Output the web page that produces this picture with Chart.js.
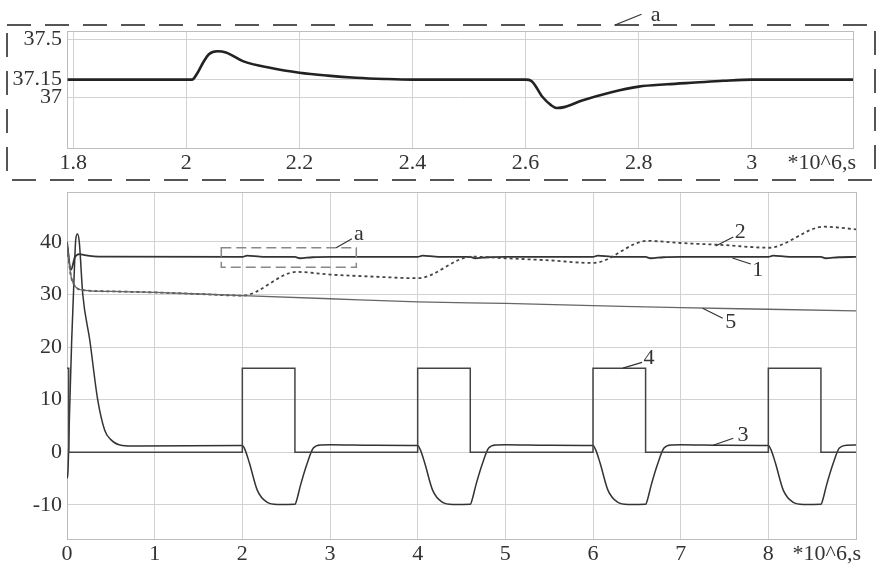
<!DOCTYPE html>
<html>
<head>
<meta charset="utf-8">
<script src="https://cdn.jsdelivr.net/npm/chart.js@4.4.1/dist/chart.umd.min.js"></script>
<style>
  html, body { margin: 0; padding: 0; background: #fff; }
  #wrap { position: relative; width: 877px; height: 568px; overflow: hidden; }
  canvas { position: absolute; left: 0; }
  #insetCanvas { top: 0; }
  #mainCanvas { top: 185px; }
</style>
</head>
<body>
<div id="wrap">
  <canvas id="insetCanvas" width="877" height="190"></canvas>
  <canvas id="mainCanvas" width="877" height="383"></canvas>
</div>
<script>
// ---- data (time in 10^6 s) ----
var unitLabel = "*10^6,s";

// inset (curve 1 between 1.8 and 3.2)
var insetXTicks = [1.8, 2, 2.2, 2.4, 2.6, 2.8, 3];
var insetYTicks = [37, 37.15, 37.5];
var insetX = [1.79, 2.0, 2.01, 2.02, 2.03, 2.04, 2.055, 2.07, 2.1, 2.15, 2.2, 2.25, 2.3, 2.35, 2.4, 2.5,
              2.6, 2.61, 2.63, 2.645, 2.655, 2.67, 2.7, 2.75, 2.8, 2.85, 2.9, 2.95, 3.0, 3.1, 3.18];
var insetY = [37.15, 37.15, 37.15, 37.21, 37.3, 37.37, 37.395, 37.385, 37.31, 37.25, 37.21, 37.185, 37.167, 37.156, 37.15, 37.15,
              37.15, 37.14, 37.0, 36.93, 36.905, 36.915, 36.97, 37.04, 37.09, 37.11, 37.125, 37.14, 37.15, 37.15, 37.15];

// main chart
var mainXTicks = [0, 1, 2, 3, 4, 5, 6, 7, 8, 9];
var mainYTicks = [-10, 0, 10, 20, 30, 40];

// curve 1
var s1X = [0, 0.045, 0.09, 0.14, 0.2, 0.4, 2.0, 2.055, 2.2, 2.4, 2.6, 2.655, 2.8, 3.0,
           4.0, 4.055, 4.2, 4.4, 4.6, 4.655, 4.8, 5.0, 6.0, 6.055, 6.2, 6.4, 6.6, 6.655, 6.8, 7.0,
           8.0, 8.055, 8.2, 8.4, 8.6, 8.655, 8.8, 9.0];
var s1Y = [40, 34.7, 37.1, 37.7, 37.5, 37.2, 37.15, 37.4, 37.21, 37.15, 37.15, 36.9, 37.09, 37.15,
           37.15, 37.4, 37.21, 37.15, 37.15, 36.9, 37.09, 37.15, 37.15, 37.4, 37.21, 37.15, 37.15, 36.9, 37.09, 37.15,
           37.15, 37.4, 37.21, 37.15, 37.15, 36.9, 37.09, 37.15];

// curve 2 (dotted)
var s2X = [0, 0.04, 0.09, 0.2, 0.5, 1, 1.5, 2, 2.62, 3, 3.5, 4, 4.62, 5, 5.5, 6, 6.62, 7, 7.5, 8, 8.64, 9];
var s2Y = [40, 34, 31.6, 30.8, 30.6, 30.4, 30.1, 29.8, 34.3, 33.8, 33.4, 33.1, 37.2, 36.9, 36.5, 36.0, 40.2, 39.8, 39.4, 38.9, 42.9, 42.4];

// curve 3
var s3X = [0, 0.01, 0.03, 0.053, 0.08, 0.1, 0.12, 0.14, 0.18, 0.26, 0.35, 0.43, 0.5, 0.63, 0.8, 2.0,
           2.03, 2.08, 2.17, 2.28, 2.4, 2.6, 2.63, 2.66, 2.74, 2.81, 2.9, 3.0, 3.5, 4.0,
           4.03, 4.08, 4.17, 4.28, 4.4, 4.6, 4.63, 4.66, 4.74, 4.81, 4.9, 5.0, 5.5, 6.0,
           6.03, 6.08, 6.17, 6.28, 6.4, 6.6, 6.63, 6.66, 6.74, 6.81, 6.9, 7.0, 7.5, 8.0,
           8.03, 8.08, 8.17, 8.28, 8.4, 8.6, 8.63, 8.66, 8.74, 8.81, 8.9, 9.0];
var s3Y = [-5, -4, 8, 21, 33, 40.5, 41.5, 40, 30, 21.3, 10, 4.2, 2.4, 1.3, 1.2, 1.3,
           0.5, -2, -7.2, -9.5, -9.95, -9.9, -8.5, -6.5, -2.1, 0.8, 1.4, 1.45, 1.35, 1.3,
           0.5, -2, -7.2, -9.5, -9.95, -9.9, -8.5, -6.5, -2.1, 0.8, 1.4, 1.45, 1.35, 1.3,
           0.5, -2, -7.2, -9.5, -9.95, -9.9, -8.5, -6.5, -2.1, 0.8, 1.4, 1.45, 1.35, 1.3,
           0.5, -2, -7.2, -9.5, -9.95, -9.9, -8.5, -6.5, -2.1, 0.8, 1.35, 1.4];

// curve 4 (pulses)
var s4X = [0, 0.01, 0.02, 0.02, 2, 2, 2.6, 2.6, 4, 4, 4.6, 4.6, 6, 6, 6.6, 6.6, 8, 8, 8.6, 8.6, 9];
var s4Y = [16, 16, 16, 0, 0, 16, 16, 0, 0, 16, 16, 0, 0, 16, 16, 0, 0, 16, 16, 0, 0];

// curve 5
var s5X = [0, 0.04, 0.09, 0.2, 0.5, 1, 2, 3, 4, 5, 6, 7, 8, 9];
var s5Y = [40, 34, 31.6, 30.8, 30.6, 30.4, 29.8, 29.2, 28.6, 28.3, 27.9, 27.5, 27.2, 26.9];

// curve labels with their leader lines, in data units
var mainNotes = [
  { text: "1", at: [7.88, 34.7], from: [7.59, 36.95], to: [7.80, 35.8] },
  { text: "2", at: [7.68, 41.9], from: [7.40, 39.24], to: [7.60, 40.95] },
  { text: "3", at: [7.71, 3.2], from: [7.37, 1.33], to: [7.60, 2.67] },
  { text: "4", at: [6.64, 17.9], from: [6.34, 16.0], to: [6.56, 17.1] },
  { text: "5", at: [7.57, 24.8], from: [7.25, 27.4], to: [7.48, 25.5] },
  { text: "a", at: [3.33, 41.5], from: [3.07, 38.9], to: [3.25, 40.6] }
];
var zoomBox = [1.76, 3.30, 35.2, 38.9];
var insetNote = { text: "a", at: [2.83, 37.71], from: [2.757, 37.62], to: [2.805, 37.715] };

// ---- helpers ----
var FONT = "Liberation Serif, Times New Roman, serif";
var INK = "#333";

function pts(xs, ys) {
  return xs.map(function(x, i) { return { x: x, y: ys[i] }; });
}

function drawNote(chart, n) {
  var ctx = chart.ctx, sx = chart.scales.x, sy = chart.scales.y;
  ctx.save();
  ctx.strokeStyle = INK;
  ctx.lineWidth = 1.2;
  ctx.beginPath();
  ctx.moveTo(sx.getPixelForValue(n.from[0]), sy.getPixelForValue(n.from[1]));
  ctx.lineTo(sx.getPixelForValue(n.to[0]), sy.getPixelForValue(n.to[1]));
  ctx.stroke();
  ctx.fillStyle = INK;
  ctx.font = "22px " + FONT;
  ctx.textAlign = "center";
  ctx.textBaseline = "middle";
  ctx.fillText(n.text, sx.getPixelForValue(n.at[0]), sy.getPixelForValue(n.at[1]));
  ctx.restore();
}

function unitText(chart, dx) {
  var ctx = chart.ctx, a = chart.chartArea;
  ctx.save();
  ctx.fillStyle = INK;
  ctx.font = "22px " + FONT;
  ctx.textAlign = "right";
  ctx.textBaseline = "middle";
  ctx.fillText(unitLabel, a.right + dx, a.bottom + 15);
  ctx.restore();
}

var framePlugin = {
  id: "frame",
  beforeDatasetsDraw: function(chart) {
    var ctx = chart.ctx, a = chart.chartArea;
    ctx.save();
    ctx.strokeStyle = "#bdbdbd";
    ctx.lineWidth = 1;
    ctx.strokeRect(a.left + 0.5, a.top + 0.5, a.right - a.left, a.bottom - a.top);
    ctx.restore();
  }
};

function axes(xmin, xmax, ymin, ymax, xt, yt, xh, xlab) {
  return {
    x: {
      type: "linear", min: xmin, max: xmax,
      afterBuildTicks: function(s) { s.ticks = xt.map(function(v) { return { value: v }; }); },
      afterFit: function(s) { s.height = xh; s.paddingLeft = 0; s.paddingRight = 0; },
      grid: { color: "#d2d2d2", drawTicks: false },
      border: { color: "#bdbdbd" },
      ticks: { color: INK, font: { family: FONT, size: 22 }, padding: 2, maxRotation: 0, autoSkip: false,
               callback: xlab }
    },
    y: {
      type: "linear", min: ymin, max: ymax,
      afterBuildTicks: function(s) { s.ticks = yt.map(function(v) { return { value: v }; }); },
      afterFit: function(s) { s.width = 67; s.paddingTop = 0; s.paddingBottom = 0; },
      grid: { color: "#d2d2d2", drawTicks: false },
      border: { color: "#bdbdbd" },
      ticks: { color: INK, font: { family: FONT, size: 22 }, padding: 5, autoSkip: false,
               callback: function(v) { return String(v); } }
    }
  };
}

// ---- inset chart ----
new Chart(document.getElementById("insetCanvas").getContext("2d"), {
  type: "scatter",
  data: {
    datasets: [{
      data: pts(insetX, insetY), showLine: true, borderColor: "#222", borderWidth: 2.6,
      pointRadius: 0, cubicInterpolationMode: "monotone"
    }]
  },
  options: {
    responsive: false, animation: false, devicePixelRatio: 1,
    layout: { padding: { top: 31, right: 24, left: 0, bottom: 0 } },
    plugins: { legend: { display: false }, tooltip: { enabled: false } },
    scales: axes(1.789, 3.179, 36.56, 37.57, insetXTicks, insetYTicks, 42,
                 function(v) { return String(v); })
  },
  plugins: [framePlugin, {
    id: "insetDecor",
    afterDraw: function(chart) {
      var ctx = chart.ctx, a = chart.chartArea;
      unitText(chart, 3);
      // dashed outline of region a
      ctx.save();
      ctx.strokeStyle = "#555";
      ctx.lineWidth = 2;
      ctx.setLineDash([24, 14]);
      ctx.strokeRect(a.left - 60, a.top - 6, a.right - a.left + 82, a.bottom - a.top + 38);
      ctx.restore();
      drawNote(chart, insetNote);
    }
  }]
});

// ---- main chart ----
new Chart(document.getElementById("mainCanvas").getContext("2d"), {
  type: "scatter",
  data: {
    datasets: [
      { label: "5", data: pts(s5X, s5Y), showLine: true, borderColor: "#666", borderWidth: 1.3,
        pointRadius: 0, cubicInterpolationMode: "monotone" },
      { label: "4", data: pts(s4X, s4Y), showLine: true, borderColor: "#444", borderWidth: 1.5,
        pointRadius: 0, tension: 0 },
      { label: "3", data: pts(s3X, s3Y), showLine: true, borderColor: "#333", borderWidth: 1.5,
        pointRadius: 0, cubicInterpolationMode: "monotone" },
      { label: "2", data: pts(s2X, s2Y), showLine: true, borderColor: "#444", borderWidth: 1.8,
        borderDash: [3, 3], pointRadius: 0, cubicInterpolationMode: "monotone" },
      { label: "1", data: pts(s1X, s1Y), showLine: true, borderColor: "#333", borderWidth: 1.8,
        pointRadius: 0, cubicInterpolationMode: "monotone" }
    ]
  },
  options: {
    responsive: false, animation: false, devicePixelRatio: 1,
    layout: { padding: { top: 7, right: 21, left: 0, bottom: 0 } },
    plugins: { legend: { display: false }, tooltip: { enabled: false } },
    scales: axes(0, 9, -16.5, 49.5, mainXTicks, mainYTicks, 29,
                 function(v) { return v === 9 ? "" : String(v); })
  },
  plugins: [framePlugin, {
    id: "mainDecor",
    afterDraw: function(chart) {
      var ctx = chart.ctx, sx = chart.scales.x, sy = chart.scales.y;
      unitText(chart, 5);
      var x0 = sx.getPixelForValue(zoomBox[0]), x1 = sx.getPixelForValue(zoomBox[1]);
      var y0 = sy.getPixelForValue(zoomBox[3]), y1 = sy.getPixelForValue(zoomBox[2]);
      ctx.save();
      ctx.strokeStyle = "#888";
      ctx.lineWidth = 1.5;
      ctx.setLineDash([10, 5]);
      ctx.strokeRect(x0, y0, x1 - x0, y1 - y0);
      ctx.restore();
      mainNotes.forEach(function(n) { drawNote(chart, n); });
    }
  }]
});
</script>
</body>
</html>
